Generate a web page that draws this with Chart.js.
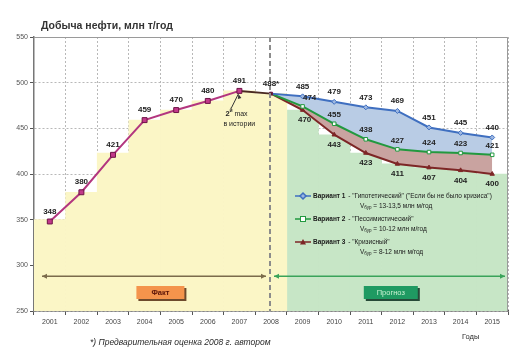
<!DOCTYPE html>
<html><head><meta charset="utf-8">
<script src="https://cdn.jsdelivr.net/npm/chart.js@4/dist/chart.umd.min.js"></script>
<style>html,body{margin:0;padding:0;background:#fff}#wrap{width:521px;height:362px}</style>
</head><body><div id="wrap"><canvas id="c" width="521" height="362"></canvas></div>
<script>
const years = ['2001','2002','2003','2004','2005','2006','2007','2008','2009','2010','2011','2012','2013','2014','2015'];
const factValues = [348,380,421,459,470,480,491,488,null,null,null,null,null,null,null];
const variant1 = [null,null,null,null,null,null,null,488,485,479,473,469,451,445,440];
const variant2 = [null,null,null,null,null,null,null,488,474,455,438,427,424,423,421];
const variant3 = [null,null,null,null,null,null,null,488,470,443,423,411,407,404,400];
const factBand = [350,380,423,459,470,480,491,488,null,null,null,null,null,null,null];
const forecastBand = [null,null,null,null,null,null,null,null,470,443,423,411,407,404,400];
const yMin = 250, yMax = 550, yStep = 50;
const arrowLevel = 288;
const legendNames = ['Вариант 1','Вариант 2','Вариант 3'];
const legendDescs = [' - "Гипотетический" ("Если бы не было кризиса")',' - "Пессимистический"',' - "Кризисный"'];
const drillRates = ['13-13,5','10-12','8-12'];

const F = 'Arial, "Liberation Sans", sans-serif';
const C_FACT = '#B3367F', C_BLUE = '#3F6FC0', C_GREEN = '#22993F', C_RED = '#7D2626';

function labelsPlugin(){
  return {
    id:'deco',
    afterDatasetsDraw(chart){
      const ctx = chart.ctx, ca = chart.chartArea;
      const xs = chart.scales.x, ys = chart.scales.y;
      // dashed 2008 divider
      const x08 = xs.getPixelForValue(7);
      ctx.save();
      ctx.strokeStyle = '#8c8c8c'; ctx.lineWidth = 2; ctx.setLineDash([5,3]);
      ctx.beginPath(); ctx.moveTo(x08-1, ca.top); ctx.lineTo(x08-1, ca.bottom); ctx.stroke();
      ctx.restore();
      // plot frame top/right
      ctx.save(); ctx.strokeStyle='#9a9a9a'; ctx.lineWidth=1;
      ctx.beginPath(); ctx.moveTo(ca.left, ca.top+0.5); ctx.lineTo(ca.right-0.5, ca.top+0.5); ctx.lineTo(ca.right-0.5, ca.bottom); ctx.stroke();
      ctx.restore();
      // arrows
      const ya = ys.getPixelForValue(arrowLevel);
      function arrow(x1,x2,col){
        ctx.save(); ctx.strokeStyle=col; ctx.fillStyle=col; ctx.lineWidth=1.5;
        ctx.beginPath(); ctx.moveTo(x1,ya); ctx.lineTo(x2,ya); ctx.stroke();
        [[x1,1],[x2,-1]].forEach(([x,d])=>{ctx.beginPath();ctx.moveTo(x,ya);ctx.lineTo(x+5*d,ya-2.5);ctx.lineTo(x+5*d,ya+2.5);ctx.closePath();ctx.fill();});
        ctx.restore();
      }
      arrow(ca.left+8, x08-5, '#7b6b4b');
      arrow(x08+3, ca.right-3, '#3aa35a');
      // boxes
      function box(x,y,w,h,fill,shadow,txt,tcol,bold){
        ctx.save();
        ctx.fillStyle=shadow; ctx.fillRect(x+2,y+2,w,h);
        ctx.fillStyle=fill; ctx.fillRect(x,y,w,h);
        ctx.fillStyle=tcol; ctx.font=(bold?'bold ':'')+'7.5px '+F; ctx.textAlign='center'; ctx.textBaseline='middle';
        ctx.fillText(txt,x+w/2,y+h/2+0.5);
        ctx.restore();
      }
      const xf = (xs.getPixelForValue(3)+xs.getPixelForValue(4))/2;
      box(xf-24, 286, 48, 13, '#F4944C', '#6d4a2c', 'Факт', '#5a1408', true);
      const xp = xs.getPixelForValue(10)+25;
      box(xp-27, 286, 54, 13, '#1F9A62', '#274a38', 'Прогноз', '#c9f2d2', false);
      // data labels
      ctx.save(); ctx.font='bold 8px '+F; ctx.fillStyle='#222'; ctx.textAlign='center'; ctx.textBaseline='middle';
      const specs = [[0,factValues,-10,0],[1,variant1,-10,0],[2,variant2,-9,0],[3,variant3,10,0]];
      specs.forEach(([di,arr,dy])=>{
        const meta = chart.getDatasetMeta(di);
        arr.forEach((v,i)=>{
          if(v==null) return;
          if(di>0 && i===7) return;
          const p = meta.data[i];
          let txt = String(v); let dx = 0;
          if(di===0 && i===7) txt = v+'*';
          if(di===2 && i===8) dx = 7;
          if(di===3 && i===8) dx = 2;
          ctx.fillText(txt, p.x+dx, p.y+dy);
        });
      });
      ctx.restore();
      // annotation "2й max в истории"
      const p07 = chart.getDatasetMeta(0).data[6];
      ctx.save(); ctx.strokeStyle='#333'; ctx.fillStyle='#333'; ctx.lineWidth=1;
      ctx.beginPath(); ctx.moveTo(p07.x-8, p07.y+17); ctx.lineTo(p07.x-1, p07.y+3); ctx.stroke();
      ctx.beginPath(); ctx.moveTo(p07.x-1,p07.y+3); ctx.lineTo(p07.x-1.5,p07.y+8); ctx.lineTo(p07.x+2,p07.y+7); ctx.closePath(); ctx.fill();
      ctx.fillStyle='#222'; ctx.textBaseline='alphabetic';
      ctx.font='bold 7.5px '+F; ctx.fillText('2', p07.x-14, p07.y+25);
      ctx.font='bold 5px '+F; ctx.fillText('й', p07.x-9.8, p07.y+21);
      ctx.font='7px '+F; ctx.fillText('max', p07.x-5, p07.y+25);
      ctx.fillText('в истории', p07.x-16, p07.y+35);
      ctx.restore();
      // legend
      const lx = 295, ly = [196,219,242];
      const lcol = [C_BLUE, C_GREEN, C_RED];
      ctx.save();
      for(let k=0;k<3;k++){
        const y = ly[k];
        ctx.strokeStyle=lcol[k]; ctx.lineWidth=1.5;
        ctx.beginPath(); ctx.moveTo(lx,y); ctx.lineTo(lx+16,y); ctx.stroke();
        const mx = lx+8;
        if(k===0){ctx.fillStyle='#9cb6e0'; ctx.beginPath(); ctx.moveTo(mx,y-3);ctx.lineTo(mx+3,y);ctx.lineTo(mx,y+3);ctx.lineTo(mx-3,y);ctx.closePath();ctx.fill();ctx.stroke();}
        if(k===1){ctx.fillStyle='#fff'; ctx.fillRect(mx-2.5,y-2.5,5,5); ctx.lineWidth=1; ctx.strokeRect(mx-2.5,y-2.5,5,5);}
        if(k===2){ctx.fillStyle=C_RED; ctx.beginPath(); ctx.moveTo(mx,y-3);ctx.lineTo(mx+3,y+2.5);ctx.lineTo(mx-3,y+2.5);ctx.closePath();ctx.fill();}
        ctx.fillStyle='#1a1a1a'; ctx.textBaseline='middle'; ctx.textAlign='left';
        ctx.font='bold 6.5px '+F; ctx.fillText(legendNames[k], lx+18, y);
        const w = ctx.measureText(legendNames[k]).width;
        ctx.font='6.5px '+F; ctx.fillText(legendDescs[k], lx+18+w+1, y);
        const vy = y+10;
        ctx.fillText('V', 360, vy);
        const vw = ctx.measureText('V').width;
        ctx.font='4.5px '+F; ctx.fillText('бур', 360+vw, vy+2);
        const sw = ctx.measureText('бур').width;
        ctx.font='6.5px '+F; ctx.fillText(' = '+drillRates[k]+' млн м/год', 360+vw+sw, vy);
      }
      ctx.restore();
    },
    afterDraw(chart){
      const ctx = chart.ctx;
      ctx.save();
      ctx.fillStyle='#333'; ctx.textAlign='left'; ctx.textBaseline='alphabetic';
      ctx.font='bold 10.5px '+F; ctx.fillText('Добыча нефти, млн т/год', 41, 29);
      ctx.font='italic 8.5px '+F; ctx.fillStyle='#2a2a2a'; ctx.fillText('*) Предварительная оценка 2008 г. автором', 90, 345);
      ctx.font='7.5px '+F; ctx.fillText('Годы', 462, 339);
      ctx.restore();
    }
  };
}

const ptR = (arr,r)=>arr.map((v,i)=> (i===7?0:r));

new Chart(document.getElementById('c'), {
  data: {
    labels: years,
    datasets: [
      {type:'line', label:'Факт', data: factValues, order:0, borderColor:C_FACT, borderWidth:2,
        segment:{borderColor: c => c.p1DataIndex===7 ? '#4a2a22' : C_FACT},
        pointStyle:'rect', pointRadius: factValues.map((v,i)=>i===7?2:3.5), pointBackgroundColor: factValues.map((v,i)=>i===7?'#4a2a22':'#c2388a'),
        pointBorderColor:'#6e1446', pointBorderWidth:1, fill:false, tension:0},
      {type:'line', label:legendNames[0], data: variant1, order:1, borderColor:C_BLUE, borderWidth:2,
        pointStyle:'rectRot', pointRadius: ptR(variant1,2.5), pointBackgroundColor:'#9cb6e0', pointBorderColor:C_BLUE, pointBorderWidth:1, fill:false},
      {type:'line', label:legendNames[1], data: variant2, order:2, borderColor:C_GREEN, borderWidth:2,
        pointStyle:'rect', pointRadius: ptR(variant2,2.5), pointBackgroundColor:'#ffffff', pointBorderColor:C_GREEN, pointBorderWidth:1, fill:false},
      {type:'line', label:legendNames[2], data: variant3, order:3, borderColor:C_RED, borderWidth:2,
        pointStyle:'triangle', pointRadius: ptR(variant3,2.5), pointBackgroundColor:C_RED, pointBorderColor:C_RED, pointBorderWidth:1, fill:false},
      {type:'line', label:'band1', data: variant1, order:5, borderWidth:0, borderColor:'rgba(0,0,0,0)', pointRadius:0,
        fill:{target:2, above:'#B9CCE5', below:'#B9CCE5'}},
      {type:'line', label:'band2', data: variant2, order:6, borderWidth:0, borderColor:'rgba(0,0,0,0)', pointRadius:0,
        fill:{target:3, above:'#C9A3A0', below:'#C9A3A0'}},
      {type:'bar', label:'fact area', data: factBand, order:8, backgroundColor:'#FBF6C6', barPercentage:1, categoryPercentage:1, grouped:false},
      {type:'bar', label:'forecast area', data: forecastBand, order:9, backgroundColor:'#C7E6C6', barPercentage:1, categoryPercentage:1, grouped:false}
    ]
  },
  options: {
    responsive:false, animation:false, devicePixelRatio:1,
    layout:{padding:{left:0, top:37, right:13, bottom:0}},
    plugins:{legend:{display:false}, tooltip:{enabled:false}},
    scales:{
      x:{type:'category', offset:true,
        grid:{offset:true, color:'#b8b8b8', lineWidth:1, tickLength:4, tickColor:'#555', tickBorderDash:[]},
        border:{color:'#555', width:1.5, dash:[2,2]},
        ticks:{font:{size:7, family:F}, color:'#444', padding:3, maxRotation:0, autoSkip:false},
        afterFit(s){s.height = 51;}
      },
      y:{min:yMin, max:yMax,
        grid:{color:'#b8b8b8', lineWidth:1, tickLength:4, tickColor:'#555', tickBorderDash:[]},
        border:{color:'#777', width:1.5, dash:[2,2]},
        ticks:{stepSize:yStep, font:{size:7, family:F}, color:'#555', padding:2},
        afterFit(s){s.width = 34;}
      }
    }
  },
  plugins:[labelsPlugin()]
});
</script>
</body></html>
